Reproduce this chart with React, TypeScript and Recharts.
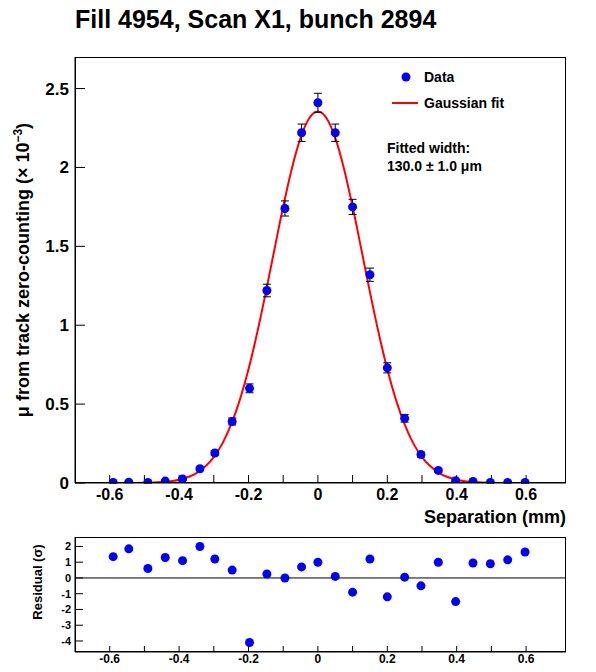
import { ComposedChart, Scatter, Line, XAxis, YAxis, ErrorBar, ReferenceLine } from 'recharts';

// separation (mm) of each scan step
const sepX = [-0.59, -0.545, -0.49, -0.44, -0.39, -0.34, -0.297, -0.247, -0.197, -0.147, -0.095, -0.047, 0, 0.05, 0.1, 0.15, 0.2, 0.25, 0.297, 0.347, 0.397, 0.447, 0.497, 0.547, 0.597];
// mu from zero-counting, x 10^-3
const muVals = [0.003, 0.005, 0.003, 0.012, 0.025, 0.09, 0.19, 0.39, 0.6, 1.22, 1.74, 2.22, 2.41, 2.22, 1.75, 1.32, 0.73, 0.41, 0.18, 0.08, 0.015, 0.01, 0.003, 0.003, 0.003];
const muErr = [0.004, 0.004, 0.004, 0.005, 0.007, 0.012, 0.016, 0.022, 0.028, 0.04, 0.048, 0.055, 0.06, 0.055, 0.048, 0.042, 0.032, 0.024, 0.016, 0.011, 0.006, 0.005, 0.004, 0.004, 0.004];
const residVals = [1.35, 1.85, 0.6, 1.3, 1.1, 2.0, 1.2, 0.5, -4.1, 0.25, 0.0, 0.7, 1.0, 0.1, -0.9, 1.2, -1.2, 0.05, -0.5, 1.0, -1.5, 0.95, 0.9, 1.15, 1.65];

// fitted gaussian curve
const fitX = [-0.7, -0.6, -0.5, -0.45, -0.4, -0.35, -0.3, -0.275, -0.25, -0.225, -0.2, -0.175, -0.15, -0.125, -0.1, -0.075, -0.05, -0.025, 0, 0.025, 0.05, 0.075, 0.1, 0.125, 0.15, 0.175, 0.2, 0.225, 0.25, 0.275, 0.3, 0.35, 0.4, 0.45, 0.5, 0.6, 0.7];
const fitY = [0, 0, 0.001, 0.006, 0.021, 0.063, 0.164, 0.251, 0.371, 0.527, 0.721, 0.952, 1.21, 1.483, 1.752, 1.994, 2.187, 2.312, 2.355, 2.312, 2.187, 1.994, 1.752, 1.483, 1.21, 0.952, 0.721, 0.527, 0.371, 0.251, 0.164, 0.063, 0.021, 0.006, 0.001, 0, 0];

const xTicks = [-0.6, -0.5, -0.4, -0.3, -0.2, -0.1, 0, 0.1, 0.2, 0.3, 0.4, 0.5, 0.6];
const muTicks = [0, 0.5, 1, 1.5, 2, 2.5];
const residTicks = [-4, -3, -2, -1, 0, 1, 2];

const dataPts = sepX.map((x, i) => ({ x, y: muVals[i], err: muErr[i] }));
const residPts = sepX.map((x, i) => ({ x, y: residVals[i] }));
const fitPts = fitX.map((x, i) => ({ x, y: fitY[i] }));

const font = '"Liberation Sans", Arial, sans-serif';
const xFmt = (v: number) => (Math.round(v * 10) % 2 === 0 ? (Math.abs(v) < 1e-9 ? '0' : v.toFixed(1)) : '');
const axisProps = { stroke: '#000', tickLine: { stroke: '#000' }, axisLine: { stroke: '#000' } } as const;
const dot = (p: any) => <circle cx={p.cx} cy={p.cy} r={4.5} fill="#0000ff" />;

export default function App() {
  return (
    <div style={{ position: 'fixed', left: 0, top: 0, width: 596, height: 672, background: '#fff', fontFamily: font }}>
      <div style={{ position: 'absolute', left: 75, top: 5, fontSize: 25, fontWeight: 'bold' }}>Fill 4954, Scan X1, bunch 2894</div>

      <div style={{ position: 'absolute', left: 0, top: 0 }}>
        <ComposedChart width={596} height={530} margin={{ top: 57, right: 30, left: 0, bottom: 0 }}>
          <XAxis dataKey="x" type="number" domain={[-0.7, 0.715]} ticks={xTicks} tickFormatter={xFmt} allowDataOverflow height={47} tickSize={-8} interval={0}
            tick={{ fill: '#000', fontSize: 16, fontWeight: 'bold', dy: 12 }} {...axisProps} />
          <YAxis dataKey="y" type="number" domain={[0, 2.7]} ticks={muTicks} width={75} allowDataOverflow tickSize={-10} interval={0}
            tick={{ fill: '#000', fontSize: 17, fontWeight: 'bold', dx: -14 }} {...axisProps} />
          <Line data={fitPts} dataKey="y" type="monotone" stroke="#ff0000" strokeWidth={2} dot={false} isAnimationActive={false} />
          <Scatter data={dataPts} dataKey="y" shape={dot} isAnimationActive={false}>
            <ErrorBar dataKey="err" direction="y" width={4} stroke="#000" strokeWidth={1} />
          </Scatter>
        </ComposedChart>
      </div>
      <div style={{ position: 'absolute', left: 75, top: 57, width: 491, height: 426, border: '1px solid #000', boxSizing: 'border-box', pointerEvents: 'none' }} />

      <div style={{ position: 'absolute', left: 22, top: 270, transform: 'translate(-50%,-50%) rotate(-90deg)', whiteSpace: 'nowrap', fontSize: 18, fontWeight: 'bold' }}>
        μ from track zero-counting (× 10<sup style={{ fontSize: 12 }}>−3</sup>)
      </div>
      <div style={{ position: 'absolute', right: 30, top: 507, fontSize: 18, fontWeight: 'bold' }}>Separation (mm)</div>

      <svg style={{ position: 'absolute', left: 380, top: 65 }} width={60} height={50}>
        <circle cx={26} cy={12} r={4.5} fill="#0000ff" />
        <line x1={12} x2={38} y1={38} y2={38} stroke="#ff0000" strokeWidth={2} />
      </svg>
      <div style={{ position: 'absolute', left: 424, top: 69, fontSize: 14, fontWeight: 'bold' }}>Data</div>
      <div style={{ position: 'absolute', left: 424, top: 95, fontSize: 14, fontWeight: 'bold' }}>Gaussian fit</div>
      <div style={{ position: 'absolute', left: 387, top: 139, fontSize: 14, fontWeight: 'bold', lineHeight: '18px' }}>
        Fitted width:<br />130.0 ± 1.0 μm
      </div>

      <div style={{ position: 'absolute', left: 0, top: 530 }}>
        <ComposedChart width={596} height={142} margin={{ top: 7, right: 30, left: 0, bottom: 0 }}>
          <XAxis dataKey="x" type="number" domain={[-0.7, 0.715]} ticks={xTicks} tickFormatter={xFmt} allowDataOverflow height={20} tickSize={-6} interval={0}
            tick={{ fill: '#000', fontSize: 12, fontWeight: 'bold', dy: 6 }} {...axisProps} />
          <YAxis dataKey="y" type="number" domain={[-4.7, 2.6]} ticks={residTicks} width={75} allowDataOverflow tickSize={-8} interval={0}
            tick={{ fill: '#000', fontSize: 11, fontWeight: 'bold', dx: -10 }} {...axisProps} />
          <ReferenceLine y={0} stroke="#000" />
          <Scatter data={residPts} dataKey="y" shape={dot} isAnimationActive={false} />
        </ComposedChart>
      </div>
      <div style={{ position: 'absolute', left: 75, top: 537, width: 491, height: 115, border: '1px solid #000', boxSizing: 'border-box', pointerEvents: 'none' }} />
      <div style={{ position: 'absolute', left: 37, top: 582, transform: 'translate(-50%,-50%) rotate(-90deg)', whiteSpace: 'nowrap', fontSize: 13, fontWeight: 'bold' }}>Residual (σ)</div>
    </div>
  );
}
